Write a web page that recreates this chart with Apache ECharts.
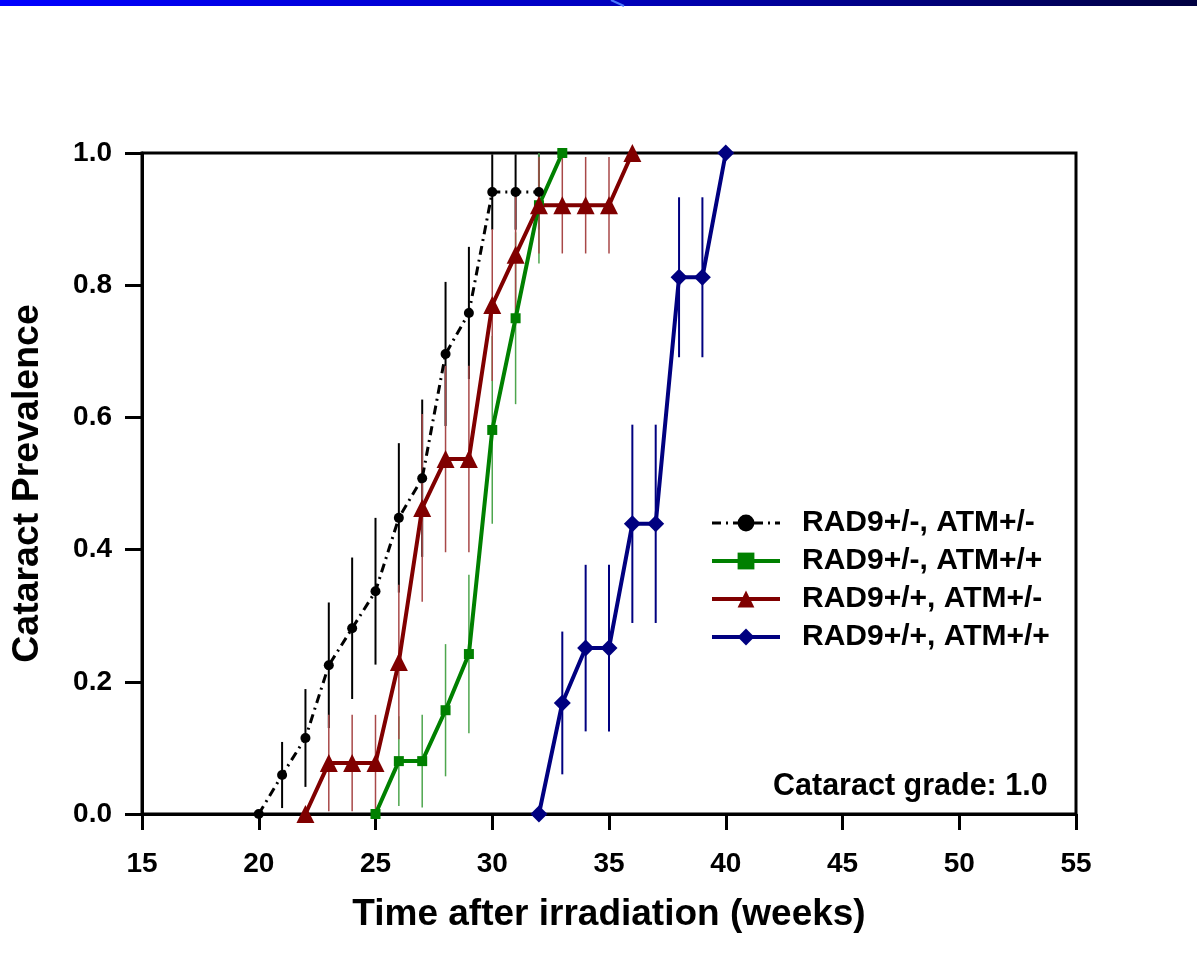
<!DOCTYPE html>
<html><head><meta charset="utf-8">
<script src="https://cdn.jsdelivr.net/npm/echarts@6/dist/echarts.min.js"></script>
<style>html,body{margin:0;padding:0;background:#fff}#c{width:1197px;height:954px}</style>
</head><body><div id="c"></div>
<script>
// ---- data ----
const xTicks = [15, 20, 25, 30, 35, 40, 45, 50, 55];
const yTicks = [0.0, 0.2, 0.4, 0.6, 0.8, 1.0];
const names = ['RAD9+/-, ATM+/-', 'RAD9+/-, ATM+/+', 'RAD9+/+, ATM+/-', 'RAD9+/+, ATM+/+'];

const weeksA = [20, 21, 22, 23, 24, 25, 26, 27, 28, 29, 30, 31, 32];
const prevA  = [0.0, 0.059, 0.115, 0.225, 0.281, 0.337, 0.448, 0.508, 0.696, 0.758, 0.941, 0.941, 0.941];
const errA   = [0, 0.05, 0.074, 0.095, 0.107, 0.111, 0.113, 0.119, 0.109, 0.10, 0.057, 0.057, 0.057];

const weeksB = [25, 26, 27, 28, 29, 30, 31, 32, 33];
const prevB  = [0.0, 0.080, 0.080, 0.157, 0.242, 0.581, 0.750, 0.921, 1.0];
const errB   = [0, 0.068, 0.070, 0.10, 0.12, 0.142, 0.13, 0.088, 0];

const weeksC = [22, 23, 24, 25, 26, 27, 28, 29, 30, 31, 32, 33, 34, 35, 36];
const prevC  = [0.0, 0.077, 0.077, 0.077, 0.230, 0.463, 0.537, 0.537, 0.770, 0.846, 0.921, 0.921, 0.921, 0.921, 1.0];
const errC   = [0, 0.073, 0.073, 0.073, 0.117, 0.142, 0.141, 0.141, 0.115, 0.088, 0.073, 0.073, 0.073, 0.073, 0];

const weeksD = [32, 33, 34, 35, 36, 37, 38, 39, 40];
const prevD  = [0.0, 0.168, 0.251, 0.251, 0.439, 0.439, 0.812, 0.812, 1.0];
const errD   = [0, 0.108, 0.126, 0.126, 0.15, 0.15, 0.121, 0.121, 0];

// ---- build options ----
const FONT = '"Liberation Sans", Arial, sans-serif';
const zip2 = (xs, ys) => xs.map((x, i) => [x, ys[i]]);
const zip3 = (xs, ys, es) => xs.map((x, i) => [x, ys[i], es[i]]);

function errSeries(name, xs, ys, es, color, width) {
  return {
    name: name, type: 'custom', z: 1, silent: true,
    data: zip3(xs, ys, es),
    encode: { x: 0, y: 1 },
    renderItem: function (params, api) {
      const x = api.value(0), y = api.value(1), e = api.value(2);
      if (!e) return null;
      const lo = Math.max(0, y - e), hi = Math.min(1, y + e);
      const p1 = api.coord([x, lo]), p2 = api.coord([x, hi]);
      return { type: 'line', shape: { x1: p1[0], y1: p1[1], x2: p2[0], y2: p2[1] },
               style: { stroke: color, lineWidth: width } };
    }
  };
}

function lineSeries(name, xs, ys, color, symbol, size, lw, type) {
  return {
    name: name, type: 'line', z: 3,
    data: zip2(xs, ys),
    symbol: symbol, symbolSize: size, showSymbol: true,
    lineStyle: { color: color, width: lw, type: type || 'solid' },
    itemStyle: { color: color, borderWidth: 0 },
    emphasis: { disabled: true },
    clip: false
  };
}

const dashA = [9, 5, 2, 5];
const chart = echarts.init(document.getElementById('c'), null, { renderer: 'canvas' });
chart.setOption({
  animation: false,
  backgroundColor: '#fff',
  textStyle: { fontFamily: FONT },
  grid: { left: 142, top: 153, width: 934, height: 661, show: true, borderColor: '#000', borderWidth: 3, backgroundColor: 'transparent' },
  xAxis: {
    type: 'value', min: xTicks[0], max: xTicks[xTicks.length - 1], interval: 5,
    name: 'Time after irradiation (weeks)', nameLocation: 'middle', nameGap: 82,
    nameTextStyle: { fontSize: 37, fontWeight: 'bold', color: '#000', fontFamily: FONT },
    axisLine: { onZero: false, lineStyle: { color: '#000', width: 3 } },
    axisTick: { show: true, length: 16, lineStyle: { color: '#000', width: 3 } },
    axisLabel: { fontSize: 28, fontWeight: 'bold', color: '#000', margin: 36, fontFamily: FONT },
    splitLine: { show: false }
  },
  yAxis: {
    type: 'value', min: yTicks[0], max: yTicks[yTicks.length - 1], interval: 0.2,
    name: 'Cataract Prevalence', nameLocation: 'middle', nameGap: 95,
    nameTextStyle: { fontSize: 37.5, fontWeight: 'bold', color: '#000', fontFamily: FONT },
    axisLine: { onZero: false, lineStyle: { color: '#000', width: 3 } },
    axisTick: { show: true, length: 17, lineStyle: { color: '#000', width: 3 } },
    axisLabel: { fontSize: 28, fontWeight: 'bold', color: '#000', margin: 30, fontFamily: FONT,
                 formatter: v => v.toFixed(1) },
    splitLine: { show: false }
  },
  legend: {
    data: [
      { name: names[0], lineStyle: { width: 3, type: dashA } },
      { name: names[1], lineStyle: { width: 4 } },
      { name: names[2], lineStyle: { width: 4 } },
      { name: names[3], lineStyle: { width: 4 } }
    ],
    orient: 'vertical', left: 710, top: 508,
    itemWidth: 68, itemHeight: 21, itemGap: 8, padding: 0,
    textStyle: { fontSize: 30, fontWeight: 'bold', color: '#000', fontFamily: FONT, lineHeight: 30, padding: [0, 0, 0, 17] },
    selectedMode: false
  },
  graphic: [
    { type: 'rect', left: 0, top: 0, shape: { width: 1197, height: 6 },
      style: { fill: new echarts.graphic.LinearGradient(0, 0, 1, 0, [
        { offset: 0, color: '#0000ff' }, { offset: 0.5, color: '#0000c0' }, { offset: 1, color: '#000040' }]) } },
    { type: 'line', shape: { x1: 611, y1: 0, x2: 624, y2: 6 }, style: { stroke: '#4a78ff', lineWidth: 2 } },
    { type: 'text', left: 773, top: 771,
      style: { text: 'Cataract grade: 1.0', font: 'bold 30.5px ' + FONT, fill: '#000' } }
  ],
  series: [
    errSeries('errA', weeksA, prevA, errA, '#000000', 2),
    errSeries('errB', weeksB, prevB, errB, '#4ea64e', 1.5),
    errSeries('errC', weeksC, prevC, errC, '#a84848', 1.5),
    errSeries('errD', weeksD, prevD, errD, '#000080', 2),
    lineSeries(names[0], weeksA, prevA, '#000000', 'circle', 10, 3, dashA),
    lineSeries(names[1], weeksB, prevB, '#008000', 'rect', 10, 4),
    lineSeries(names[2], weeksC, prevC, '#800000', 'triangle', 18, 4),
    lineSeries(names[3], weeksD, prevD, '#000080', 'diamond', 17, 4)
  ]
});
</script>
</body></html>
